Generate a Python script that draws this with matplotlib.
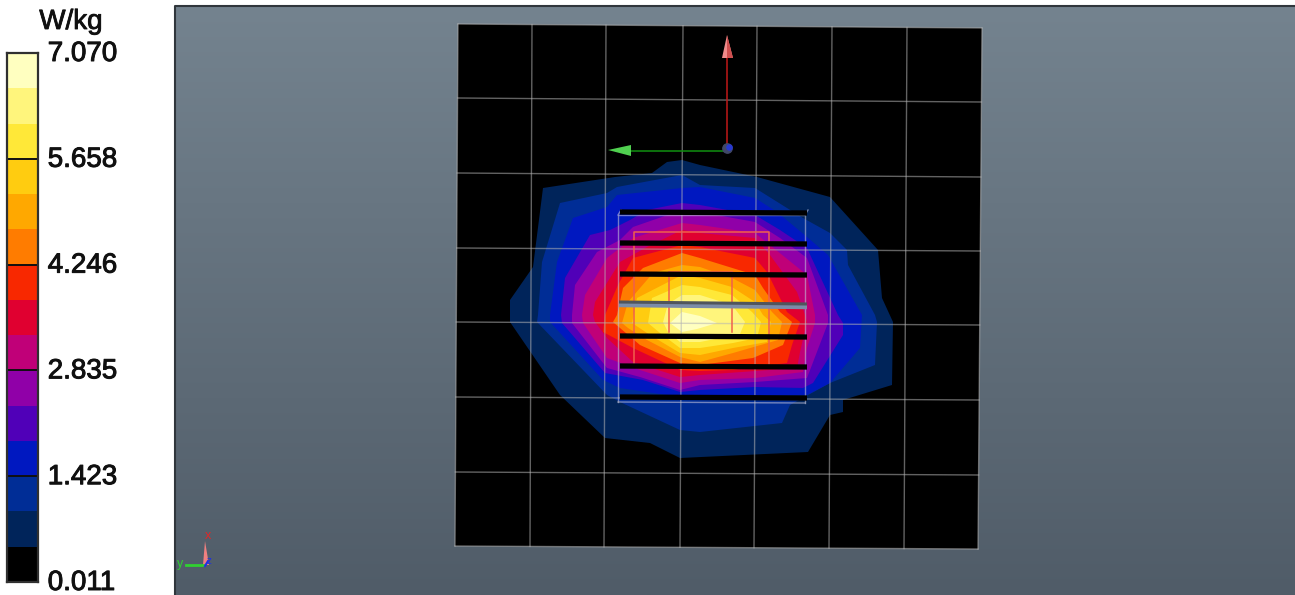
import numpy as np
import matplotlib
matplotlib.use('Agg')
import matplotlib.pyplot as plt
import matplotlib.patheffects as pe
from matplotlib.colors import LinearSegmentedColormap
from matplotlib.transforms import ScaledTranslation

# colour scale
levels = [0.011, 0.482, 0.952, 1.423, 1.894, 2.364, 2.835, 3.305, 3.776,
          4.246, 4.717, 5.188, 5.658, 6.129, 6.599, 7.070]
band_colors = ['#000000', '#00245a', '#002d96', '#0018c0', '#5000b8', '#9000a8',
               '#c00078', '#e00030', '#f82800', '#ff7c00', '#ffa800', '#ffcc10',
               '#ffe838', '#fff57c', '#ffffc0']
tick_values = [0.011, 1.423, 2.835, 4.246, 5.658, 7.070]
tick_labels = ['0.011', '1.423', '2.835', '4.246', '5.658', '7.070']
unit_label = 'W/kg'

# scan plate grid (pixels)
grid_top = [458, 532, 606, 683, 757, 832, 907, 982]
grid_bottom = [455, 530, 604, 680, 754, 829, 904, 978]
grid_left = [24, 98, 173, 248, 322, 397, 472, 546]
grid_right = [28, 102, 177, 251, 325, 400, 475, 549]

# SAR contour outlines, one per band above the black one
contour_1 = [(510, 315), (510, 300), (533, 267), (543, 188), (615, 177), (652, 173), (667, 162), (682, 160),
             (700, 165), (757, 177), (830, 197), (878, 250), (882, 298), (893, 322), (892, 385), (843, 400),
             (843, 412), (830, 415), (808, 452), (680, 458), (650, 443), (605, 438), (560, 395), (510, 322)]
contour_2 = [(538, 315), (542, 262), (560, 203), (607, 193), (617, 187), (682, 175), (700, 185), (755, 188),
             (803, 218), (830, 233), (847, 250), (848, 265), (875, 315), (877, 322), (875, 365), (830, 383),
             (790, 405), (782, 423), (700, 432), (680, 430), (620, 402), (607, 395), (537, 322)]
contour_3 = [(550, 315), (557, 262), (573, 218), (607, 207), (617, 195), (682, 188), (700, 187), (755, 198),
             (777, 212), (807, 237), (828, 255), (862, 315), (860, 348), (830, 383), (807, 395), (700, 397),
             (680, 397), (620, 388), (603, 380), (550, 322)]
contour_4 = [(561, 315), (565, 278), (590, 235), (610, 230), (630, 220), (647, 210), (682, 203), (700, 205),
             (755, 215), (780, 230), (807, 248), (838, 315), (843, 323), (843, 335), (813, 383), (803, 388),
             (755, 387), (700, 390), (680, 392), (643, 380), (605, 373), (562, 323)]
contour_5 = [(572, 315), (575, 285), (597, 252), (620, 240), (633, 227), (682, 210), (700, 212), (755, 222),
             (780, 238), (807, 258), (828, 315), (828, 323), (807, 378), (755, 382), (700, 385), (680, 390),
             (640, 377), (607, 368), (572, 323)]
contour_6 = [(582, 315), (585, 295), (607, 258), (633, 238), (682, 223), (700, 225), (755, 233), (807, 275),
             (815, 315), (815, 323), (807, 348), (803, 372), (755, 378), (700, 380), (680, 383), (640, 370),
             (607, 358), (583, 323)]
contour_7 = [(593, 315), (595, 302), (620, 262), (647, 247), (682, 230), (700, 233), (755, 238), (770, 255),
             (797, 292), (805, 315), (807, 322), (800, 352), (797, 368), (700, 375), (680, 377), (633, 362),
             (607, 338), (595, 322)]
contour_8 = [(605, 315), (618, 285), (633, 258), (663, 250), (682, 245), (700, 247), (755, 258), (767, 272),
             (787, 312), (800, 322), (792, 345), (787, 363), (733, 370), (700, 371), (680, 370), (633, 348),
             (603, 332)]
contour_9 = [(613, 322), (617, 315), (623, 288), (643, 268), (682, 253), (700, 258), (755, 275), (763, 288),
             (780, 312), (792, 322), (783, 345), (753, 358), (700, 365), (680, 363), (640, 345), (620, 328)]
contour_10 = [(622, 323), (628, 302), (653, 273), (682, 265), (700, 267), (732, 278), (755, 290), (772, 312),
              (782, 322), (778, 340), (733, 353), (700, 362), (680, 357), (647, 340), (628, 328)]
contour_11 = [(632, 323), (637, 298), (682, 275), (700, 278), (732, 287), (755, 302), (763, 315),
              (771, 322), (767, 342), (733, 348), (700, 355), (680, 353), (650, 335)]
contour_12 = [(648, 323), (652, 298), (682, 285), (700, 287), (732, 295), (752, 312), (761, 322),
              (757, 338), (733, 343), (700, 348), (680, 348), (660, 333)]
contour_13 = [(663, 322), (668, 304), (682, 295), (700, 295), (732, 305), (745, 322),
              (740, 334), (700, 342), (680, 342), (668, 332)]
contour_14 = [(670, 323), (682, 312), (700, 316), (717, 323), (697, 329), (682, 332)]
contours = [contour_1, contour_2, contour_3, contour_4, contour_5, contour_6, contour_7,
            contour_8, contour_9, contour_10, contour_11, contour_12, contour_13, contour_14]

# phantom box
bar_rows = [212, 243, 274, 336, 366, 397]
grey_bar_row = 304

fig = plt.figure(figsize=(12.95, 5.95), dpi=100, facecolor='white')
plt.rcParams['font.family'] = ['Liberation Sans', 'DejaVu Sans']

ax = fig.add_axes([0, 0, 1, 1])
ax.axis('off')

# grey viewport
bg = LinearSegmentedColormap.from_list('bg', ['#74838f', '#505c68'])
ax.imshow(np.linspace(0, 1, 256).reshape(-1, 1), cmap=bg, aspect='auto',
          extent=(175, 1295, 595, 6), zorder=1)
ax.plot([175, 175, 1295], [595, 6, 6], color='#30363c', lw=1.5, zorder=2)
ax.set_xlim(0, 1295)
ax.set_ylim(595, 0)

# plate
corners = [(grid_top[0], grid_left[0]), (grid_top[-1], grid_right[0]),
           (grid_bottom[-1], grid_right[-1]), (grid_bottom[0], grid_left[-1])]
ax.fill(*zip(*corners), color='black', lw=0, zorder=3)

for outline, color in zip(contours, band_colors[1:]):
    ax.fill(*zip(*outline), color=color, lw=0, zorder=4)

# grid over the contours
for t, b in zip(grid_top, grid_bottom):
    ax.plot([t, b], [np.interp(t, [grid_top[0], grid_top[-1]], [grid_left[0], grid_right[0]]),
                     np.interp(b, [grid_bottom[0], grid_bottom[-1]], [grid_left[-1], grid_right[-1]])],
            color='#b4b4b4', alpha=0.55, lw=1, zorder=5)
for l, r in zip(grid_left, grid_right):
    ax.plot([np.interp(l, [grid_left[0], grid_left[-1]], [grid_top[0], grid_bottom[0]]),
             np.interp(r, [grid_right[0], grid_right[-1]], [grid_top[-1], grid_bottom[-1]])], [l, r],
            color='#b4b4b4', alpha=0.55, lw=1, zorder=5)

# inner frame
ax.plot([634, 634, 769, 769], [363, 232, 232, 367], color='#f0604c', lw=1.1, zorder=6)
ax.plot([669, 669], [272, 332], color='#f0604c', lw=1.1, zorder=6)
ax.plot([732, 732], [272, 332], color='#f0604c', lw=1.1, zorder=6)
ax.plot([669, 732], [272, 272], color='#f0604c', lw=1.1, zorder=6)

# box wireframe
ax.plot([618, 618, 805, 805], [402, 215, 215, 403], color='#c0c0d8', alpha=0.6, lw=1, zorder=7)
ax.plot([618, 805], [402, 403], color='#c0c0d8', alpha=0.6, lw=1, zorder=7)
ax.plot([621, 618], [210, 215], color='#c0c0d8', alpha=0.6, lw=1, zorder=7)
ax.plot([808, 805], [210, 215], color='#c0c0d8', alpha=0.6, lw=1, zorder=7)
for row in bar_rows:
    ax.plot([620, 807], [row, row + 1], color='black', lw=3.8, solid_capstyle='butt', zorder=8)
ax.plot([619, 807], [grey_bar_row + 1, grey_bar_row + 3], color='#7c8ca8', lw=3.2,
        solid_capstyle='butt', zorder=8)
ax.plot([619, 807], [grey_bar_row - 2, grey_bar_row], color='#50555c', lw=2.2,
        solid_capstyle='butt', zorder=8)

# big axis arrows
ax.plot([727, 727], [148, 58], color='#c01818', lw=1.1, zorder=9)
ax.fill([727, 722, 733], [35, 58, 58], color='#f08c8c', lw=0, zorder=9)
ax.fill([727, 727, 733], [35, 58, 58], color='#d05050', lw=0, zorder=9)
ax.plot([727, 630], [151, 151], color='#109010', lw=1.1, zorder=9)
ax.fill([608, 631, 631], [150, 145, 156], color='#50d050', lw=0, zorder=9)
ax.scatter([727], [148], s=45, color='#404868', zorder=10)
ax.scatter([729], [147], s=14, color='#2838d0', zorder=10)

# small orientation triad
ax.fill([205, 203, 209], [541, 565, 565], color='#f08080', lw=0, zorder=9)
ax.plot([186, 204], [565, 565], color='#30d030', lw=2, zorder=9)
ax.plot([205, 208], [566, 561], color='#2030e0', lw=1.5, zorder=9)
ax.text(208, 536, 'x', color='#e02828', fontsize=9, ha='center', va='center', zorder=10)
ax.text(180, 564, 'y', color='#30d030', fontsize=9, ha='center', va='center', zorder=10)
ax.text(209, 561, 'z', color='#2030e0', fontsize=7, ha='center', va='center', zorder=10)

# colour bar
cax = fig.add_axes([7 / 1295, 1 - 582 / 595, 31 / 1295, 529 / 595])
cax.bar(0.5, np.diff(levels), bottom=levels[:-1], width=1, color=band_colors, linewidth=0)
cax.hlines(tick_values[1:-1], 0, 1, color='#101010', lw=1.4)
cax.set_xlim(0, 1)
cax.set_ylim(levels[0], levels[-1])
cax.set_xticks([])
cax.set_yticks(tick_values)
cax.set_yticklabels(tick_labels)
cax.yaxis.tick_right()
cax.tick_params(axis='y', length=0, pad=7, labelsize=20, labelcolor='#101010')
shift = ScaledTranslation(0, 2 / 100, fig.dpi_scale_trans)
for lab in cax.get_yticklabels():
    lab.set_path_effects([pe.withStroke(linewidth=0.7, foreground='#101010')])
    lab.set_transform(lab.get_transform() + shift)
for s in cax.spines.values():
    s.set_color('#303030')
    s.set_linewidth(1.6)

ax.text(71, 22, unit_label, fontsize=20, color='#101010', ha='center', va='center', zorder=10,
        path_effects=[pe.withStroke(linewidth=0.6, foreground='#101010')])

fig.savefig('out.png', dpi=100)
